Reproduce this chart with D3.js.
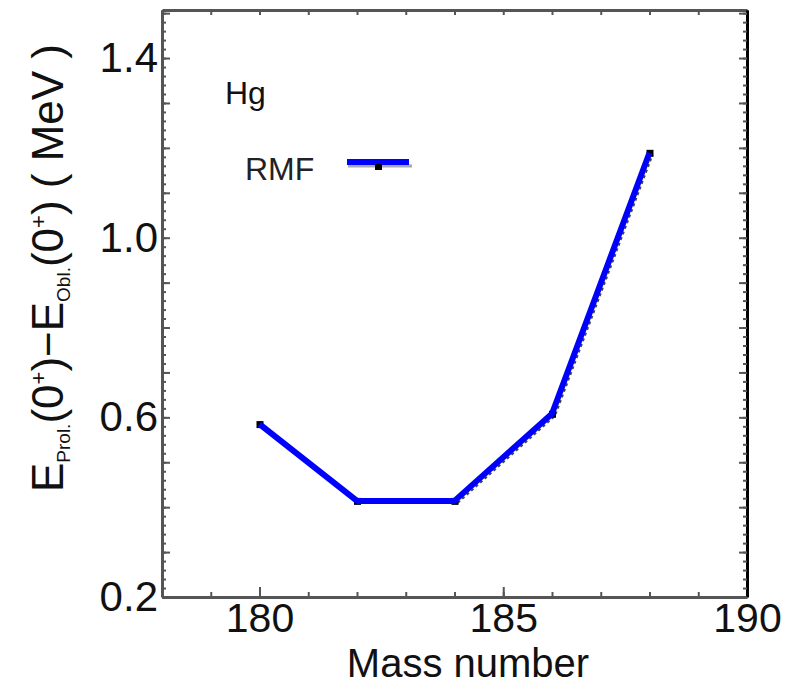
<!DOCTYPE html>
<html>
<head>
<meta charset="utf-8">
<script src="https://cdn.jsdelivr.net/npm/d3@7"></script>
<style>
  body { margin: 0; background: #fff; }
  svg { display: block; font-family: "Liberation Sans", Arial, sans-serif; }
</style>
</head>
<body>
<div id="chart"></div>
<script>
// data
var massNumbers = [180, 182, 184, 186, 188];
var energyDiff = [0.585, 0.414, 0.414, 0.608, 1.189];
var xMajorTicks = [180, 185, 190];
var yMajorTicks = [0.2, 0.6, 1.0, 1.4];
var nucleus = "Hg";
var seriesName = "RMF";

var width = 793, height = 686;
var margin = { left: 162, right: 46, top: 10, bottom: 89 };

var svg = d3.select("#chart").append("svg")
  .attr("width", width)
  .attr("height", height);

var x = d3.scaleLinear().domain([178, 190]).range([margin.left, width - margin.right]);
var y = d3.scaleLinear().domain([0.2, 1.507]).range([height - margin.bottom, margin.top]);

var axisColor = "#555";

// minor ticks every 1 on x, every 0.02 on y
var xMinor = d3.range(178, 190.5, 1);
var yMinor = d3.range(0, 66).map(function (i) { return +(0.2 + i * 0.02).toFixed(2); }).filter(function (v) { return v <= 1.5; });
var yMid = yMinor.filter(function (v) { return Math.abs(v * 10 - Math.round(v * 10)) < 1e-6; });

function styleAxis(g) {
  g.select(".domain").attr("stroke", axisColor).attr("stroke-width", 3);
  g.selectAll(".tick line").attr("stroke", axisColor).attr("stroke-width", 2);
}

// bottom
svg.append("g")
  .attr("transform", "translate(0," + y.range()[0] + ")")
  .call(d3.axisBottom(x).tickValues(xMinor).tickSize(-5).tickSizeOuter(0).tickFormat(""))
  .call(styleAxis);
svg.append("g")
  .attr("transform", "translate(0," + y.range()[0] + ")")
  .call(d3.axisBottom(x).tickValues(xMajorTicks).tickSize(-10).tickSizeOuter(0).tickPadding(6).tickFormat(d3.format("d")))
  .call(styleAxis)
  .call(function (g) {
    g.select(".domain").remove();
    g.selectAll("text").attr("font-size", 41).attr("fill", "#111")
      .attr("font-family", "'Liberation Sans', Arial, sans-serif");
  });

// top
svg.append("g")
  .attr("transform", "translate(0," + y.range()[1] + ")")
  .call(d3.axisTop(x).tickValues(xMinor).tickSize(-5).tickSizeOuter(0).tickFormat(""))
  .call(styleAxis);

// left
svg.append("g")
  .attr("transform", "translate(" + x.range()[0] + ",0)")
  .call(d3.axisLeft(y).tickValues(yMinor).tickSize(-4).tickSizeOuter(0).tickFormat(""))
  .call(styleAxis);
svg.append("g")
  .attr("transform", "translate(" + x.range()[0] + ",0)")
  .call(d3.axisLeft(y).tickValues(yMid).tickSize(-8).tickSizeOuter(0).tickFormat(""))
  .call(styleAxis)
  .call(function (g) { g.select(".domain").remove(); });
svg.append("g")
  .attr("transform", "translate(" + x.range()[0] + ",0)")
  .call(d3.axisLeft(y).tickValues(yMajorTicks).tickSize(0).tickPadding(4).tickFormat(d3.format(".1f")))
  .call(function (g) {
    g.select(".domain").remove();
    g.selectAll("text").attr("font-size", 42).attr("fill", "#111")
      .attr("font-family", "'Liberation Sans', Arial, sans-serif");
  });

// right
svg.append("g")
  .attr("transform", "translate(" + x.range()[1] + ",0)")
  .call(d3.axisRight(y).tickValues(yMinor).tickSize(-4).tickSizeOuter(0).tickFormat(""))
  .call(styleAxis)
  .call(function (g) { g.select(".domain").attr("stroke", "#000"); });
svg.append("g")
  .attr("transform", "translate(" + x.range()[1] + ",0)")
  .call(d3.axisRight(y).tickValues(yMid).tickSize(-8).tickSizeOuter(0).tickFormat(""))
  .call(styleAxis)
  .call(function (g) { g.select(".domain").remove(); });

// x label
svg.append("text")
  .attr("x", 468)
  .attr("y", 677)
  .attr("text-anchor", "middle")
  .attr("font-size", 40)
  .attr("fill", "#111")
  .text("Mass number");

// y label with sub/superscripts
var yl = svg.append("text")
  .attr("transform", "translate(63,268) rotate(-90)")
  .attr("text-anchor", "middle")
  .attr("font-size", 44)
  .attr("fill", "#111");
yl.append("tspan").text("E");
yl.append("tspan").attr("font-size", 19).attr("dy", 7).text("Prol.");
yl.append("tspan").attr("dy", -7).text("(0");
yl.append("tspan").attr("font-size", 22).attr("dy", -17).text("+");
yl.append("tspan").attr("dy", 17).text(")\u2212E");
yl.append("tspan").attr("font-size", 19).attr("dy", 7).text("Obl.");
yl.append("tspan").attr("dy", -7).text("(0");
yl.append("tspan").attr("font-size", 22).attr("dy", -17).text("+");
yl.append("tspan").attr("dy", 17).text(") ( MeV )");

// data
var pts = massNumbers.map(function (m, i) { return { m: m, e: energyDiff[i] }; });

var line = d3.line().x(function (d) { return x(d.m); }).y(function (d) { return y(d.e); });

svg.append("path")
  .datum(pts)
  .attr("d", line)
  .attr("transform", "translate(3,2)")
  .attr("fill", "none")
  .attr("stroke", "#444")
  .attr("stroke-width", 2)
  .attr("stroke-dasharray", "3,3");

svg.selectAll(".mk")
  .data(pts)
  .enter()
  .append("rect")
  .attr("class", "mk")
  .attr("x", function (d) { return x(d.m) - 3; })
  .attr("y", function (d) { return y(d.e) - 3; })
  .attr("width", 7)
  .attr("height", 7)
  .attr("fill", "#000");

svg.append("path")
  .datum(pts)
  .attr("d", line)
  .attr("fill", "none")
  .attr("stroke", "#0000ff")
  .attr("stroke-width", 6)
  .attr("stroke-linejoin", "round");

// annotation and legend
svg.append("text")
  .attr("x", 225)
  .attr("y", 104)
  .attr("font-size", 32)
  .attr("fill", "#111")
  .text(nucleus);

svg.append("text")
  .attr("x", 245)
  .attr("y", 180)
  .attr("font-size", 32)
  .attr("fill", "#222")
  .text(seriesName);

svg.append("line")
  .attr("x1", 348).attr("x2", 412)
  .attr("y1", 166).attr("y2", 166)
  .attr("stroke", "#aaa").attr("stroke-width", 3);
svg.append("line")
  .attr("x1", 347).attr("x2", 409)
  .attr("y1", 162).attr("y2", 162)
  .attr("stroke", "#0000ff").attr("stroke-width", 6);
svg.append("rect")
  .attr("x", 375).attr("y", 164).attr("width", 7).attr("height", 6).attr("fill", "#000");
</script>
</body>
</html>
